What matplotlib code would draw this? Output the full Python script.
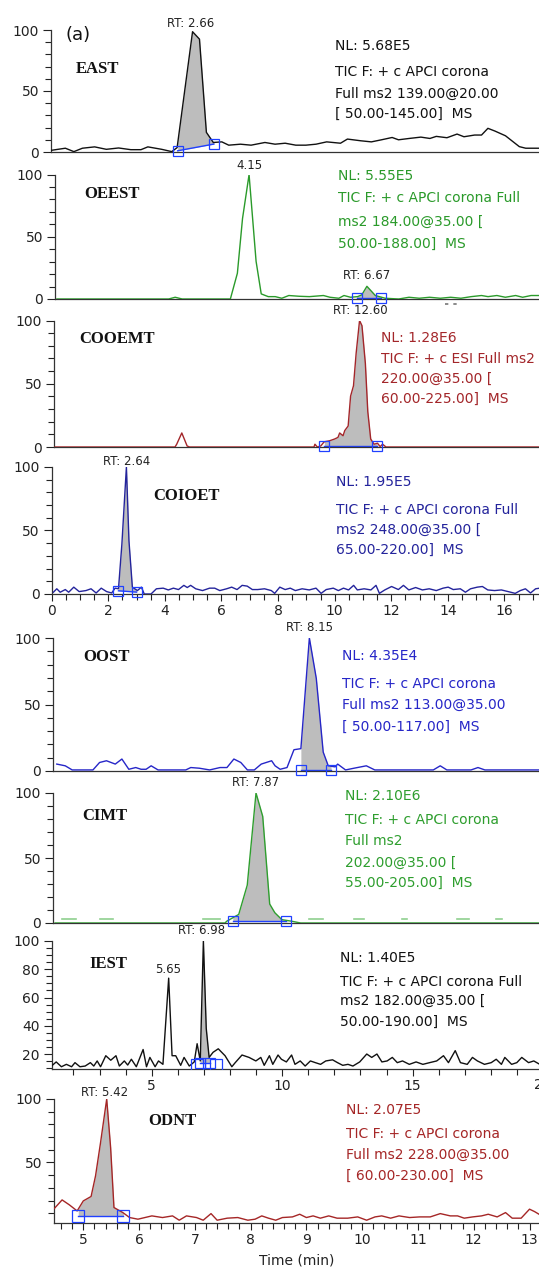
import numpy as np
import matplotlib.pyplot as plt
from matplotlib.ticker import MultipleLocator, FixedLocator

# ---- chromatogram traces: (time min, relative abundance %) ----
east_trace = [(0.01, 1.4), (0.27, 3.1), (0.43, 0.3), (0.59, 3.1), (0.82, 4.2), (1.04, 2.2),
              (1.27, 3.3), (1.50, 1.9), (1.69, 1.9), (1.82, 4.2), (2.08, 2.2), (2.27, 0.3),
              (2.37, 3.6), (2.66, 98.6), (2.79, 92.5), (2.92, 16.1), (3.05, 7.8), (3.21, 8.3),
              (3.34, 5.6), (3.56, 6.4), (3.76, 5.6), (4.02, 7.8), (4.21, 6.4), (4.40, 7.2),
              (4.60, 5.6), (4.79, 5.6), (4.98, 6.4), (5.18, 8.3), (5.44, 7.2), (5.57, 10.6),
              (5.82, 9.2), (6.02, 8.3), (6.21, 10.0), (6.41, 11.9), (6.53, 10.0), (6.73, 11.1),
              (6.95, 12.2), (7.12, 11.1), (7.24, 12.8), (7.44, 11.7), (7.63, 14.7), (7.76, 12.5),
              (7.96, 13.9), (8.09, 13.9), (8.21, 19.4), (8.34, 17.2), (8.54, 13.3), (8.80, 4.4),
              (8.92, 3.1), (9.09, 3.1), (9.17, 3.1)]

oeest_trace = [(0.04, 0.0), (2.43, 0.0), (2.57, 1.4), (2.72, 0.0), (3.75, 0.0), (3.90, 20.7),
               (4.01, 64.7), (4.15, 100.0), (4.30, 30.3), (4.41, 4.1), (4.56, 1.9), (4.71, 1.9),
               (4.85, 0.6), (5.00, 2.8), (5.22, 2.2), (5.44, 1.9), (5.74, 2.8), (5.88, 1.4),
               (6.07, 0.6), (6.18, 2.8), (6.32, 1.4), (6.47, 1.9), (6.56, 3.3), (6.67, 10.2),
               (6.85, 2.8), (7.06, 0.6), (7.35, 0.0), (7.57, 1.4), (7.79, 0.6), (8.01, 1.4),
               (8.24, 0.6), (8.46, 1.4), (8.68, 0.6), (8.90, 1.9), (9.12, 2.8), (9.26, 1.9),
               (9.45, 2.8), (9.63, 1.4), (9.85, 2.8), (10.00, 1.4), (10.18, 2.8), (10.35, 2.8)]

cooemt_trace = [(0.04, 0.0), (4.99, 0.0), (5.06, 2.2), (5.27, 11.1), (5.49, 0.8), (5.59, 0.0),
                (10.72, 0.0), (10.76, 2.2), (10.86, 0.0), (11.00, 0.8), (11.14, 4.1), (11.36, 4.9),
                (11.57, 6.3), (11.71, 7.6), (11.78, 11.1), (11.92, 8.9), (11.99, 13.0), (12.13, 16.6),
                (12.23, 40.2), (12.35, 48.4), (12.46, 74.2), (12.60, 100.0), (12.70, 95.9),
                (12.84, 66.0), (12.94, 28.0), (13.06, 6.3), (13.20, 2.2), (13.34, 3.0), (13.45, 0.3),
                (13.55, 2.2), (13.69, 0.0), (20.0, 0.0)]

coioet_trace = [(0.06, 1.4), (0.18, 4.1), (0.30, 1.4), (0.48, 3.5), (0.60, 1.4), (0.78, 5.4),
                (0.97, 1.9), (1.21, 2.7), (1.39, 4.1), (1.57, 0.8), (1.75, 4.6), (1.94, 1.9),
                (2.12, 0.8), (2.24, 4.6), (2.36, 4.1), (2.48, 39.2), (2.64, 100.0), (2.73, 41.9),
                (2.85, 5.4), (3.03, 2.7), (3.17, 5.4), (3.27, 0.0), (3.51, 0.0), (3.70, 4.1),
                (3.94, 4.6), (4.12, 3.2), (4.30, 4.6), (4.48, 3.5), (4.67, 6.8), (4.79, 5.1),
                (4.91, 6.8), (5.09, 4.1), (5.33, 2.7), (5.58, 4.6), (5.76, 4.6), (5.94, 2.7),
                (6.18, 4.1), (6.36, 5.4), (6.55, 3.5), (6.73, 6.8), (6.91, 6.2), (7.09, 3.5),
                (7.28, 3.5), (7.52, 4.1), (7.76, 2.7), (7.88, 0.5), (8.06, 5.4), (8.25, 3.5),
                (8.43, 4.6), (8.61, 2.7), (8.85, 4.1), (9.10, 3.2), (9.34, 4.6), (9.52, 0.5),
                (9.70, 3.5), (9.95, 4.6), (10.13, 2.7), (10.31, 4.6), (10.49, 3.2), (10.67, 6.8),
                (10.80, 3.2), (11.04, 4.1), (11.28, 3.2), (11.46, 6.8), (11.58, 0.5), (11.77, 3.2),
                (12.01, 5.9), (12.25, 3.5), (12.43, 6.8), (12.62, 3.2), (12.86, 5.1), (13.10, 3.2),
                (13.34, 4.1), (13.59, 2.7), (13.83, 4.6), (14.01, 5.4), (14.19, 3.5), (14.44, 4.1),
                (14.62, 1.4), (14.80, 4.1), (15.04, 5.4), (15.22, 5.9), (15.41, 3.2), (15.65, 2.7),
                (15.89, 3.2), (16.13, 1.9), (16.38, 0.5), (16.56, 2.7), (16.74, 4.1), (16.92, 0.8),
                (17.10, 4.1), (17.22, 4.5)]

oost_trace = [(0.12, 5.2), (0.39, 3.9), (0.61, 0.8), (1.27, 0.8), (1.48, 6.4), (1.70, 7.7),
              (1.98, 5.2), (2.19, 9.0), (2.41, 1.3), (2.63, 2.6), (2.80, 1.3), (2.96, 1.3),
              (3.12, 3.9), (3.34, 0.8), (4.22, 0.8), (4.38, 2.6), (4.65, 2.1), (4.98, 0.8),
              (5.31, 2.6), (5.53, 2.6), (5.75, 9.0), (5.97, 6.4), (6.18, 0.8), (6.40, 0.8),
              (6.62, 5.2), (6.95, 7.7), (7.06, 3.9), (7.22, 1.3), (7.44, 2.6), (7.66, 16.0),
              (7.88, 16.8), (8.15, 100.0), (8.37, 69.6), (8.59, 14.2), (8.75, 3.9), (8.97, 3.1),
              (9.05, 5.2), (9.30, 0.8), (9.57, 2.1), (9.96, 3.9), (10.23, 0.8), (12.09, 0.8),
              (12.31, 3.9), (12.52, 0.8), (13.29, 0.8), (13.51, 2.6), (13.73, 0.8), (15.45, 0.8)]

cimt_trace = [(0.08, 0.0), (6.67, 0.0), (6.73, 1.3), (7.20, 6.6), (7.53, 29.1), (7.87, 100.0),
              (8.13, 82.0), (8.40, 14.6), (8.60, 7.9), (8.87, 2.6), (9.27, 1.3), (9.60, 0.0),
              (18.84, 0.0)]
cimt_dash_segments = [(0.34, 0.88), (1.81, 2.34), (5.80, 6.47), (9.93, 10.47), (11.67, 12.07),
                      (13.53, 13.73), (15.66, 16.12), (17.19, 17.39)]

iest_trace = [(1.16, 11.5), (1.34, 14.4), (1.54, 11.0), (1.73, 12.7), (1.93, 11.0), (2.06, 13.9),
              (2.25, 11.0), (2.45, 11.5), (2.65, 13.9), (2.78, 11.5), (2.91, 15.1), (3.04, 11.0),
              (3.24, 18.8), (3.43, 15.6), (3.63, 18.8), (3.76, 11.5), (3.95, 15.1), (4.08, 12.2),
              (4.22, 16.3), (4.41, 11.0), (4.67, 23.2), (4.80, 11.0), (4.93, 17.6), (5.13, 11.0),
              (5.26, 15.1), (5.43, 12.7), (5.65, 73.7), (5.78, 18.8), (5.92, 18.8), (6.11, 12.0),
              (6.24, 17.6), (6.44, 11.5), (6.63, 14.4), (6.74, 27.3), (6.86, 15.1), (6.98, 100.0),
              (7.09, 38.0), (7.20, 17.6), (7.35, 21.2), (7.55, 23.7), (7.81, 18.8), (8.07, 11.0),
              (8.20, 13.9), (8.46, 19.3), (8.73, 17.6), (8.99, 15.1), (9.18, 17.6), (9.31, 12.0),
              (9.51, 18.8), (9.64, 12.7), (9.84, 19.3), (9.97, 16.3), (10.16, 14.4), (10.36, 19.3),
              (10.49, 12.7), (10.69, 15.1), (10.88, 11.5), (11.08, 15.1), (11.27, 13.9),
              (11.47, 12.7), (11.67, 15.1), (11.93, 15.9), (12.12, 13.9), (12.32, 12.0),
              (12.52, 12.7), (12.71, 11.5), (12.97, 14.4), (13.24, 20.0), (13.43, 17.6),
              (13.63, 20.0), (13.82, 14.4), (14.02, 15.1), (14.22, 17.6), (14.41, 13.9),
              (14.61, 15.1), (14.87, 12.7), (15.13, 14.4), (15.39, 12.7), (15.65, 13.9),
              (15.92, 15.1), (16.18, 18.8), (16.37, 13.9), (16.63, 22.4), (16.83, 13.9),
              (17.09, 12.7), (17.29, 17.6), (17.48, 15.1), (17.75, 12.7), (18.01, 13.9),
              (18.20, 16.3), (18.40, 12.7), (18.53, 17.6), (18.79, 12.7), (18.99, 13.9),
              (19.18, 17.6), (19.44, 13.9), (19.64, 15.1), (19.84, 13.0)]

odnt_trace = [(4.48, 13.7), (4.62, 20.5), (4.75, 16.6), (4.89, 11.8), (5.00, 19.7), (5.14, 23.2),
              (5.22, 39.5), (5.31, 65.8), (5.42, 100.0), (5.49, 61.8), (5.55, 14.5), (5.71, 10.5),
              (5.83, 6.6), (5.98, 5.3), (6.23, 7.9), (6.42, 6.6), (6.60, 7.9), (6.72, 4.5),
              (6.85, 7.9), (7.03, 6.6), (7.15, 4.5), (7.29, 9.7), (7.40, 4.5), (7.58, 6.1),
              (7.77, 6.6), (7.95, 4.5), (8.08, 5.3), (8.20, 7.9), (8.32, 6.1), (8.45, 4.5),
              (8.57, 6.6), (8.75, 7.1), (8.88, 9.2), (9.00, 6.6), (9.12, 7.9), (9.25, 6.1),
              (9.40, 7.9), (9.55, 6.1), (9.74, 6.1), (9.92, 7.1), (10.08, 4.5), (10.23, 7.1),
              (10.35, 7.9), (10.51, 6.1), (10.66, 7.9), (10.85, 6.6), (11.03, 7.1), (11.22, 7.1),
              (11.40, 9.7), (11.58, 7.9), (11.71, 7.9), (11.83, 6.1), (11.98, 7.1), (12.14, 7.9),
              (12.26, 9.2), (12.42, 7.1), (12.57, 10.5), (12.69, 6.1), (12.85, 6.1), (13.00, 13.2),
              (13.09, 11.3), (13.17, 9.2)]

# integrated peak: (start, end, baseline at start, baseline at end)
east_peak = (2.38, 3.06, 1.0, 6.5)
oeest_peak = (6.45, 6.98, 1.0, 1.0)
cooemt_peak = (11.15, 13.32, 0.8, 0.8)
coioet_peak = (2.36, 3.00, 2.5, 1.5)
oost_peak = (7.88, 8.84, 1.0, 1.0)
cimt_peak = (6.97, 9.03, 1.8, 1.8)
iest_peak = (6.86, 7.22, 13.5, 13.5)
odnt_peak = (4.91, 5.72, 7.5, 7.5)

compounds = ['EAST', 'OEEST', 'COOEMT', 'COIOET', 'OOST', 'CIMT', 'IEST', 'ODNT']
nl_values = ['5.68E5', '5.55E5', '1.28E6', '1.95E5', '4.35E4', '2.10E6', '1.40E5', '2.07E5']
scan_lines = [
    ['TIC F: + c APCI corona', 'Full ms2 139.00@20.00', '[ 50.00-145.00]  MS'],
    ['TIC F: + c APCI corona Full', 'ms2 184.00@35.00 [', '50.00-188.00]  MS'],
    ['TIC F: + c ESI Full ms2', '220.00@35.00 [', '60.00-225.00]  MS'],
    ['TIC F: + c APCI corona Full', 'ms2 248.00@35.00 [', '65.00-220.00]  MS'],
    ['TIC F: + c APCI corona', 'Full ms2 113.00@35.00', '[ 50.00-117.00]  MS'],
    ['TIC F: + c APCI corona', 'Full ms2', '202.00@35.00 [', '55.00-205.00]  MS'],
    ['TIC F: + c APCI corona Full', 'ms2 182.00@35.00 [', '50.00-190.00]  MS'],
    ['TIC F: + c APCI corona', 'Full ms2 228.00@35.00', '[ 60.00-230.00]  MS'],
]

W, H = 539, 1276
fig = plt.figure(figsize=(W / 100, H / 100), dpi=100)
plt.rcParams['font.family'] = ['DejaVu Sans']

FILL = '#bdbdbd'
MARK = '#2040ff'


def fxy(x, y):
    return x / W, 1 - y / H


def make_axes(left, top, bottom, xlim, ylim, ymajor=(0, 50, 100), yminor=10):
    ax = fig.add_axes([left / W, 1 - bottom / H, (W - left) / W, (bottom - top) / H])
    ax.set_xlim(*xlim)
    ax.set_ylim(*ylim)
    ax.patch.set_alpha(0)
    for s in ('top', 'right'):
        ax.spines[s].set_visible(False)
    for s in ('left', 'bottom'):
        ax.spines[s].set_color('#333333')
        ax.spines[s].set_linewidth(0.9)
    ax.yaxis.set_major_locator(FixedLocator(ymajor))
    ax.yaxis.set_minor_locator(MultipleLocator(yminor))
    ax.tick_params(axis='y', which='major', direction='out', length=6, width=0.8,
                   labelsize=10, pad=2.5, colors='#222222')
    ax.tick_params(axis='y', which='minor', direction='out', length=4, width=0.8,
                   colors='#222222')
    ax.tick_params(axis='x', which='both', bottom=False, labelbottom=False)
    return ax


def set_xticks(ax, major, minor):
    ax.xaxis.set_major_locator(MultipleLocator(major))
    ax.xaxis.set_minor_locator(MultipleLocator(minor))
    ax.tick_params(axis='x', which='major', bottom=True, labelbottom=True, direction='out',
                   length=5, width=0.8, labelsize=10, pad=2, colors='#222222')
    ax.tick_params(axis='x', which='minor', bottom=True, direction='out', length=4,
                   width=0.8, colors='#222222')


def draw_trace(ax, trace, color, peak, ms=7.5):
    t, v = np.array(trace).T
    s, e, bs, be = peak
    inside = (t > s) & (t < e)
    ft = np.concatenate([[s], t[inside], [e]])
    fv = np.interp(ft, t, v)
    fb = np.interp(ft, [s, e], [bs, be])
    ax.fill_between(ft, fb, fv, where=fv >= fb, color=FILL, lw=0, zorder=1)
    ax.plot(t, v, color=color, lw=1.0, zorder=3)
    ax.plot([s, e], [bs, be], color=MARK, lw=1.0, zorder=2)
    ax.plot([s, e], [bs, be], ls='none', marker='s', ms=ms, mfc='none', mec=MARK,
            mew=0.9, zorder=4, clip_on=False)


def label_panel(name, nl, lines, color, name_xy, text_x, text_ys):
    fig.text(*fxy(*name_xy), name, ha='center', va='center', fontsize=12,
             family='Liberation Serif', weight='bold', color='#111111')
    fig.text(*fxy(text_x, text_ys[0]), 'NL: ' + nl, ha='left', va='center',
             fontsize=10, color=color)
    for line, y in zip(lines, text_ys[1:]):
        fig.text(*fxy(text_x, y), line, ha='left', va='center', fontsize=10, color=color)


def rt_label(ax, text, x, y):
    ax.text(x, y, text, ha='center', va='center', fontsize=8.5, color='#222222',
            clip_on=False)


# ---- EAST ----
ax = make_axes(51, 30, 152, (0, 9.17), (0, 100))
draw_trace(ax, east_trace, '#111111', east_peak)
rt_label(ax, 'RT: 2.66', 2.63, 105.5)
label_panel(compounds[0], nl_values[0], scan_lines[0], '#111111', (98, 69), 335,
            [45.7, 72, 93.5, 113.4])
fig.text(*fxy(78, 35), '(a)', ha='center', va='center', fontsize=13, color='#111111')

# ---- OEEST ----
ax = make_axes(55, 174.6, 299, (0, 10.35), (0, 100))
draw_trace(ax, oeest_trace, '#2a9a2a', oeest_peak)
rt_label(ax, '4.15', 4.15, 107.5)
rt_label(ax, 'RT: 6.67', 6.67, 18.5)
ax.plot([8.34, 8.64], [-4.4, -4.4], color='#777777', lw=1.2, ls=(0, (2, 3)), clip_on=False)
label_panel(compounds[1], nl_values[1], scan_lines[1], '#2a9a2a', (112, 193.5), 338.5,
            [175.6, 198, 222, 243.7])

# ---- COOEMT ----
ax = make_axes(54, 320.5, 447, (0, 20), (0, 100))
draw_trace(ax, cooemt_trace, '#a3262a', cooemt_peak)
rt_label(ax, 'RT: 12.60', 12.63, 108.3)
label_panel(compounds[2], nl_values[2], scan_lines[2], '#a3262a', (117.5, 339.4), 381,
            [337.6, 359, 379, 398.5])

# ---- COIOET ----
ax = make_axes(51.7, 467, 594, (0, 17.22), (0, 100))
set_xticks(ax, 2, 0.5)
draw_trace(ax, coioet_trace, '#24249c', coioet_peak)
rt_label(ax, 'RT: 2.64', 2.63, 104.7)
label_panel(compounds[3], nl_values[3], scan_lines[3], '#24249c', (186, 495.5), 336,
            [482.5, 510, 530, 549.5])

# ---- OOST ----
ax = make_axes(53, 638, 771, (0, 15.45), (0, 100))
draw_trace(ax, oost_trace, '#2626c8', oost_peak)
rt_label(ax, 'RT: 8.15', 8.15, 107.8)
label_panel(compounds[4], nl_values[4], scan_lines[4], '#2626c8', (107, 657), 342,
            [656, 683.6, 705, 726.5])

# ---- CIMT ----
ax = make_axes(53, 793, 923, (0, 18.84), (0, 100))
for a, b in cimt_dash_segments:
    ax.plot([a, b], [3.2, 3.2], color='#8fd08f', lw=1.2, zorder=2)
draw_trace(ax, cimt_trace, '#2e9e2e', cimt_peak)
rt_label(ax, 'RT: 7.87', 7.87, 108)
label_panel(compounds[5], nl_values[5], scan_lines[5], '#2e9e2e', (105, 815.5), 345.4,
            [795.6, 820, 841, 862.6, 883])

# ---- IEST ----
ax = make_axes(51.5, 941, 1069, (1.16, 19.84), (9.4, 100),
               ymajor=(20, 40, 60, 80, 100), yminor=5)
set_xticks(ax, 5, 1)
ax.text(20, -0.125, '20', transform=ax.get_xaxis_transform(), ha='center', va='center',
        fontsize=10, color='#222222', clip_on=False)
draw_trace(ax, iest_trace, '#111111', iest_peak)
ax.plot([6.72, 7.45], [12.0, 12.0], ls='none', marker='s', ms=9, mfc='none', mec=MARK,
        mew=0.9, zorder=4)
rt_label(ax, 'RT: 6.98', 6.92, 107.1)
rt_label(ax, '5.65', 5.63, 79.6)
label_panel(compounds[6], nl_values[6], scan_lines[6], '#111111', (108, 963.5), 339.5,
            [957.6, 981.7, 1001, 1022])

# ---- ODNT ----
ax = make_axes(54, 1099, 1223, (4.475, 13.17), (2.3, 100), ymajor=(50, 100), yminor=10)
set_xticks(ax, 1, 0.2)
draw_trace(ax, odnt_trace, '#a52626', odnt_peak, ms=8)
rt_label(ax, 'RT: 5.42', 5.39, 105.5)
label_panel(compounds[7], nl_values[7], scan_lines[7], '#a52626', (172, 1121), 346.4,
            [1110, 1134, 1155, 1175.5])
ax.set_xlabel('Time (min)', fontsize=10, color='#222222', labelpad=5)

fig.savefig('out.png', dpi=100)
